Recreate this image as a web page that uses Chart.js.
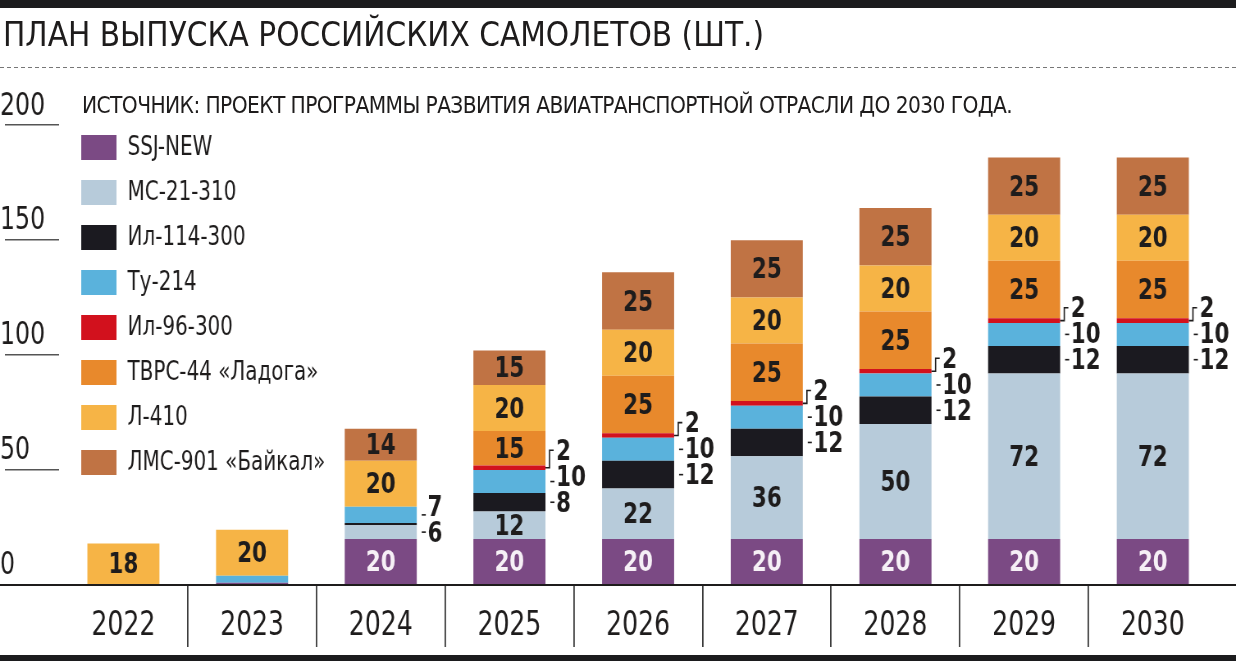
<!DOCTYPE html>
<html lang="ru">
<head>
<meta charset="utf-8">
<title>План выпуска российских самолетов</title>
<script src="https://cdn.jsdelivr.net/npm/chart.js@4.4.1/dist/chart.umd.min.js"></script>
<style>
  html, body { margin: 0; padding: 0; background: #fff; }
  body { width: 1236px; height: 661px; position: relative; overflow: hidden;
         font-family: "DejaVu Sans Condensed", "DejaVu Sans", sans-serif; color: #1e1c1c; }
  /* the chart is drawn wider and squeezed to get a condensed look for all its text */
  #wrap { position: absolute; left: 0; top: 0; width: 1507px; height: 661px;
          transform: scaleX(0.820172); transform-origin: 0 0; }
  .bar { position: absolute; left: 0; width: 1236px; background: #1c1c1e; }
  #top { top: 0; height: 8px; }
  #bottom { top: 655px; height: 6px; }
  #title { position: absolute; left: 3px; top: 17px; margin: 0; font-weight: normal; font-size: 33px; line-height: 36px; white-space: nowrap; }
  #dash { position: absolute; left: 0; top: 67px; width: 1236px; height: 1px;
          background: repeating-linear-gradient(90deg, #777 0 4px, transparent 4px 7px); }
  #source { position: absolute; left: 82px; top: 92px; font-size: 22.5px; letter-spacing: -0.6px; line-height: 26px; white-space: nowrap; }
</style>
</head>
<body>
<div id="wrap"><canvas id="chart"></canvas></div>
<div class="bar" id="top"></div>
<h1 id="title">ПЛАН ВЫПУСКА РОССИЙСКИХ САМОЛЕТОВ (ШТ.)</h1>
<div id="dash"></div>
<div id="source">ИСТОЧНИК: ПРОЕКТ ПРОГРАММЫ РАЗВИТИЯ АВИАТРАНСПОРТНОЙ ОТРАСЛИ ДО 2030 ГОДА.</div>
<div class="bar" id="bottom"></div>
<script>
const years = ["2022", "2023", "2024", "2025", "2026", "2027", "2028", "2029", "2030"]
const ssjNew = [0, 1, 20, 20, 20, 20, 20, 20, 20]
const mc21 = [0, 0, 6, 12, 22, 36, 50, 72, 72]
const il114 = [0, 0, 1, 8, 12, 12, 12, 12, 12]
const tu214 = [0, 3, 7, 10, 10, 10, 10, 10, 10]
const il96 = [0, 0, 0, 2, 2, 2, 2, 2, 2]
const tvrs44 = [0, 0, 0, 15, 25, 25, 25, 25, 25]
const l410 = [18, 20, 20, 20, 20, 20, 20, 20, 20]
const lms901 = [0, 0, 14, 15, 25, 25, 25, 25, 25]
const yTicks = [0, 50, 100, 150, 200]

const fontFamily = '"DejaVu Sans Condensed", "DejaVu Sans", sans-serif'
Chart.defaults.font.family = fontFamily
Chart.defaults.color = "#1e1c1c"

// inside: the number goes in the segment when it is big enough
const datasets = [
    { label: "SSJ-NEW", data: ssjNew, backgroundColor: "#7b4a84", inside: true, textColor: "#f6f0f6" },
    { label: "МС-21-310", data: mc21, backgroundColor: "#b7cbda", inside: true, textColor: "#1e1c1c" },
    { label: "Ил-114-300", data: il114, backgroundColor: "#1b1a20", inside: false },
    { label: "Ту-214", data: tu214, backgroundColor: "#5ab2dc", inside: false },
    { label: "Ил-96-300", data: il96, backgroundColor: "#d2111d", inside: false },
    { label: "ТВРС-44 «Ладога»", data: tvrs44, backgroundColor: "#e8892c", inside: true, textColor: "#1e1c1c" },
    { label: "Л-410", data: l410, backgroundColor: "#f6b446", inside: true, textColor: "#1e1c1c" },
    { label: "ЛМС-901 «Байкал»", data: lms901, backgroundColor: "#c07344", inside: true, textColor: "#1e1c1c" }
].map((d) => ({ ...d, borderWidth: 0, barPercentage: 0.56, categoryPercentage: 1 }))

// legend sits inside the plot, under the source line
const legendPlace = {
    id: "legendPlace",
    afterLayout(chart) {
        const lg = chart.legend
        lg.top = chart.chartArea.top
        lg.bottom = chart.chartArea.bottom
        lg.left = chart.chartArea.left + 9
    }
}

// axis line across the whole width + numbers on the segments
const segmentLabels = {
    id: "segmentLabels",
    afterDatasetsDraw(chart) {
        const ctx = chart.ctx
        const zeroY = chart.scales.y.getPixelForValue(0)
        ctx.save()
        ctx.strokeStyle = "#1e1c1c"
        ctx.lineWidth = 2
        ctx.beginPath()
        ctx.moveTo(0, zeroY)
        ctx.lineTo(chart.width, zeroY)
        ctx.stroke()

        ctx.font = "bold 29px " + fontFamily
        ctx.textBaseline = "middle"
        ctx.lineWidth = 1.6
        for (let i = 0; i < years.length; i++) {
            const total = chart.data.datasets.reduce((s, d) => s + d.data[i], 0)
            let lastY = Infinity
            chart.data.datasets.forEach((ds, di) => {
                const v = ds.data[i]
                if (!v) return
                const bar = chart.getDatasetMeta(di).data[i].getProps(["x", "y", "base", "width"], true)
                const midY = (bar.y + bar.base) / 2
                if (ds.inside && v >= 10) {
                    ctx.fillStyle = ds.textColor
                    ctx.textAlign = "center"
                    ctx.fillText(String(v), bar.x, midY + 2)
                } else if (v >= 2 && total >= 30) {
                    const right = bar.x + bar.width / 2
                    const ty = Math.min(midY, lastY - 26)
                    lastY = ty
                    ctx.strokeStyle = "#1e1c1c"
                    ctx.beginPath()
                    if (v <= 2) {
                        ctx.moveTo(right, midY)
                        ctx.lineTo(right + 5, midY)
                        ctx.lineTo(right + 5, ty)
                        ctx.lineTo(right + 10, ty)
                    } else {
                        ctx.moveTo(right + 6, midY)
                        ctx.lineTo(right + 11, midY)
                    }
                    ctx.stroke()
                    ctx.fillStyle = "#1e1c1c"
                    ctx.textAlign = "left"
                    ctx.fillText(String(v), right + 13, ty + 2)
                }
            })
        }
        ctx.restore()
    }
}

const config = {
    type: "bar",
    data: { labels: years, datasets },
    options: {
        responsive: true,
        maintainAspectRatio: false,
        animation: false,
        layout: { padding: { top: 116, right: 23, bottom: 0, left: 0 } },
        plugins: {
            tooltip: { enabled: false },
            legend: {
                position: "chartArea",
                align: "start",
                labels: {
                    boxWidth: 43,
                    boxHeight: 25,
                    padding: 18,
                    color: "#1e1c1c",
                    font: { size: 27 }
                }
            }
        },
        scales: {
            x: {
                stacked: true,
                afterFit: (s) => { s.height = 76 },
                border: { display: false },
                grid: {
                    drawOnChartArea: false,
                    offset: true,
                    tickLength: 62,
                    lineWidth: 1.8,
                    color: (c) => (c.index === undefined || c.index === 0) ? "rgba(0,0,0,0)" : "#3a3a3a"
                },
                ticks: { padding: -41, color: "#1e1c1c", font: { size: 34 } }
            },
            y: {
                stacked: true,
                min: 0,
                max: 204,
                afterBuildTicks: (s) => { s.ticks = yTicks.map((v) => ({ value: v })) },
                afterFit: (s) => { s.width = 72 },
                border: { display: false },
                grid: { drawOnChartArea: false, tickLength: 66, lineWidth: 1.5, color: "#555" },
                ticks: { crossAlign: "far", padding: 0, labelOffset: -19, color: "#1e1c1c", font: { size: 32 } }
            }
        }
    },
    plugins: [legendPlace, segmentLabels]
}

new Chart(document.querySelector("#chart"), config)
</script>
</body>
</html>
